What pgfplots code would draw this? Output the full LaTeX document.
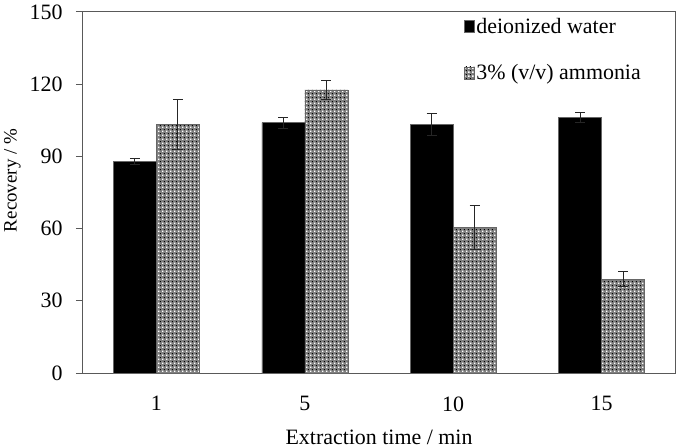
\documentclass[border=0pt]{standalone}
\usepackage{pgfplots}
\usepackage{pgfplotstable}
\pgfplotsset{compat=1.18}
\usepackage{fontspec}
\setmainfont{Liberation Serif}
\usetikzlibrary{patterns}

% fine two-tone dot pattern for the ammonia bars
\pgfdeclarepatternformonly{wdots}{\pgfpointorigin}{\pgfqpoint{3.6bp}{3.6bp}}{\pgfqpoint{3.6bp}{3.6bp}}%
  {\pgfpathrectangle{\pgfqpoint{0.2bp}{0.2bp}}{\pgfqpoint{1.4bp}{1.4bp}}\pgfusepath{fill}}
\pgfdeclarepatternformonly{bdots}{\pgfpointorigin}{\pgfqpoint{3.6bp}{3.6bp}}{\pgfqpoint{3.6bp}{3.6bp}}%
  {\pgfpathrectangle{\pgfqpoint{2.1bp}{2.1bp}}{\pgfqpoint{1bp}{1bp}}\pgfusepath{fill}}

% recovery (%) with standard deviations
\pgfplotstableread{
x water werr ammonia aerr
0 88.0  1.2 103.3 10.5
1 104.0 2.3 117.6 4.0
2 103.3 4.5 60.5  9.3
3 106.2 2.1 39.0  3.2
}\recovery

\pgfplotsset{
  sd bars/.style={
    error bars/y dir=both, error bars/y explicit,
    error bars/error bar style={line width=1bp, black!85},
    error bars/error mark options={rotate=90, mark size=5bp, line width=1bp, black!85},
  },
}

\begin{document}
\begin{tikzpicture}
\begin{axis}[
  at={(0,0)}, anchor=south west,
  scale only axis, width=592bp, height=361bp,
  ybar=0pt, bar width=43bp,
  xmin=-0.495, xmax=3.495, ymin=0, ymax=150,
  xtick=data, xticklabels={1,5,10,15},
  ytick={0,30,...,150},
  x tick style={draw=none},
  y tick style={black!65, line width=1bp},
  tick align=outside, major tick length=7bp,
  ytick pos=left,
  axis line style={black!65, line width=1bp},
  font=\fontsize{22}{26}\selectfont,
  /pgf/number format/assume math mode=true,
  xticklabel style={yshift=-13bp},
  yticklabel style={xshift=-10bp},
  xlabel={Extraction time / min},
  ylabel={Recovery / \%},
  xlabel style={yshift=-12bp},
  ylabel style={font=\fontsize{19}{22}\selectfont, yshift=2bp, xshift=12bp},
  legend style={draw=none, fill=none, at={(rel axis cs:0.643,0.99)}, anchor=north west,
    inner sep=0pt, row sep=26bp, font=\fontsize{22}{26}\selectfont},
  legend cell align=left,
  legend image code/.code={\path[#1] (0bp,-6bp) rectangle (10bp,6bp);},
]
\addplot[fill=black, draw=black!60, line width=0.6bp, sd bars]
  table[x=x, y=water, y error=werr] {\recovery};
\addplot[fill=black!50, draw=black!60, line width=0.6bp, sd bars,
  postaction={pattern=wdots, pattern color=white},
  postaction={pattern=bdots, pattern color=black}]
  table[x=x, y=ammonia, y error=aerr] {\recovery};
\legend{deionized water, 3\% (v/v) ammonia}
\end{axis}
\pgfresetboundingbox
\path (-83bp,-75bp) rectangle (598bp,373bp);
\end{tikzpicture}
\end{document}
